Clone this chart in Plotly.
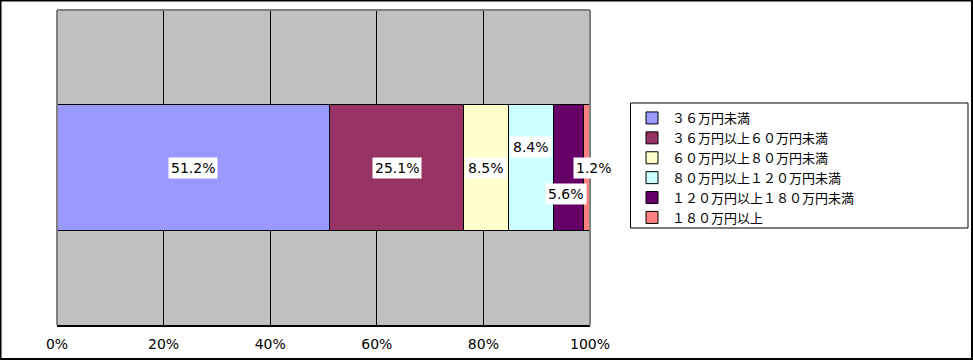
import plotly.graph_objects as go

categories = ["全体"]
series_names = ["３６万円未満", "３６万円以上６０万円未満", "６０万円以上８０万円未満",
                "８０万円以上１２０万円未満", "１２０万円以上１８０万円未満", "１８０万円以上"]
values = [51.2, 25.1, 8.5, 8.4, 5.6, 1.2]
colors = ["#9999FF", "#993366", "#FFFFCC", "#CCFFFF", "#660066", "#FF8080"]
label_yshift = [0, 0, 0, 21, -26, 0]
label_xshift = [0, 0, 0, 0, -3, 7]
tick_vals = [0, 20, 40, 60, 80, 100]
tick_text = ["0%", "20%", "40%", "60%", "80%", "100%"]

W, H = 973, 360
L, R, T, B = 57, 383, 10, 35
PW, PH = W - L - R, H - T - B


def px(x):
    return (x - L) / PW


def py(y):
    return (H - B - y) / PH


fig = go.Figure()
for name, v, c in zip(series_names, values, colors):
    fig.add_trace(go.Bar(
        y=categories, x=[v], name=name, orientation="h",
        marker=dict(color=c, line=dict(color="black", width=1)),
        width=0.4, hoverinfo="skip",
    ))

annotations = []
cum = 0
for v, ys, xs in zip(values, label_yshift, label_xshift):
    center = cum + v / 2
    cum += v
    annotations.append(dict(
        x=center, y=categories[0], xref="x", yref="y",
        text=f"{v:.1f}%", showarrow=False, yshift=ys, xshift=xs,
        bgcolor="white", borderpad=2,
        font=dict(family="DejaVu Sans", size=14, color="black"),
    ))

shapes = [
    dict(type="line", xref="paper", yref="paper", x0=0, x1=0, y0=0, y1=1,
         line=dict(color="#808080", width=2)),
    dict(type="line", xref="paper", yref="paper", x0=0, x1=1, y0=1, y1=1,
         line=dict(color="#808080", width=2)),
    dict(type="line", xref="paper", yref="paper", x0=1, x1=1, y0=0, y1=1,
         line=dict(color="#808080", width=2)),
    # legend frame
    dict(type="rect", xref="paper", yref="paper",
         x0=px(630.5), x1=px(968), y0=py(228), y1=py(103),
         line=dict(color="black", width=1), fillcolor="white", layer="below"),
    # outer figure border
    dict(type="rect", xref="paper", yref="paper",
         x0=px(0.5), x1=px(972), y0=py(359), y1=py(0.5),
         line=dict(color="black", width=2), fillcolor="rgba(0,0,0,0)", layer="above"),
]

fig.update_layout(
    barmode="stack",
    width=W, height=H,
    margin=dict(l=L, r=R, t=T, b=B, autoexpand=False),
    paper_bgcolor="white",
    plot_bgcolor="#C0C0C0",
    showlegend=True,
    legend=dict(
        x=px(632), y=py(103), xanchor="left", yanchor="top",
        borderwidth=0, bgcolor="rgba(0,0,0,0)",
        font=dict(family="Noto Sans CJK JP", size=13, color="black"),
        traceorder="normal",
        itemclick=False, itemdoubleclick=False,
    ),
    xaxis=dict(
        range=[0, 100], tickvals=tick_vals, ticktext=tick_text,
        showgrid=True, gridcolor="black", gridwidth=1,
        showline=True, linecolor="black", linewidth=2,
        ticks="outside", ticklen=5, tickcolor="rgba(0,0,0,0)",
        tickfont=dict(family="DejaVu Sans", size=14, color="black"),
        zeroline=False, fixedrange=True, automargin=False,
    ),
    yaxis=dict(
        range=[-0.5, 0.5], showticklabels=False, showgrid=False,
        zeroline=False, fixedrange=True, automargin=False,
    ),
    annotations=annotations,
    shapes=shapes,
)

fig.write_html("out.html", config={"displayModeBar": False},
               post_script="document.body.style.margin='0';document.body.style.overflow='hidden';")
